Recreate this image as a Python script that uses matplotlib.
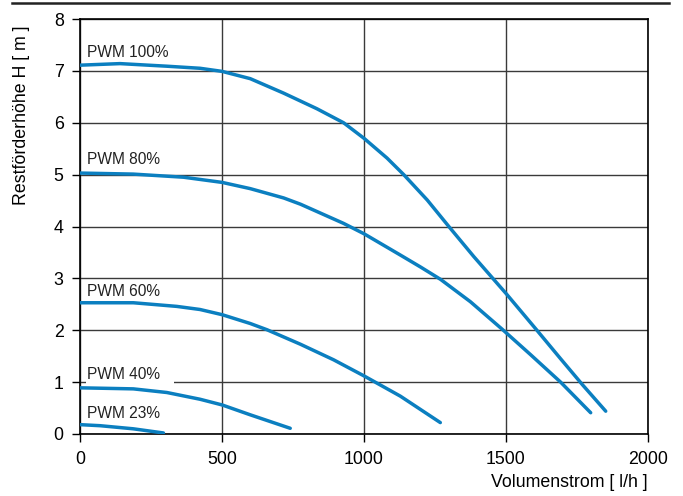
import numpy as np
import matplotlib
matplotlib.use("Agg")
from matplotlib import pyplot as plt
from matplotlib.patches import Rectangle

plt.rcParams['font.family'] = ['Liberation Sans', 'DejaVu Sans']

# curves: flow [l/h], head [m]
q100 = [0, 140, 305, 422, 500, 599, 717, 834, 928, 1000, 1081, 1140, 1223, 1299,
        1387, 1470, 1502, 1611, 1693, 1770, 1852]
h100 = [7.11, 7.14, 7.09, 7.05, 6.99, 6.85, 6.57, 6.27, 6.00, 5.70, 5.32, 5.00, 4.51, 4.00,
        3.42, 2.90, 2.70, 1.99, 1.45, 0.95, 0.44]

q80 = [0, 187, 364, 500, 599, 717, 776, 928, 1000, 1128, 1199, 1270, 1375,
       1487, 1587, 1693, 1799]
h80 = [5.03, 5.01, 4.95, 4.85, 4.73, 4.55, 4.43, 4.06, 3.86, 3.45, 3.22, 2.98, 2.55,
       2.02, 1.53, 1.00, 0.41]

q60 = [0, 187, 340, 422, 500, 599, 658, 776, 893, 1000, 1128, 1269]
h60 = [2.53, 2.53, 2.46, 2.40, 2.30, 2.13, 2.01, 1.73, 1.43, 1.12, 0.73, 0.22]

q40 = [0, 187, 305, 422, 500, 599, 740]
h40 = [0.89, 0.87, 0.80, 0.67, 0.56, 0.37, 0.11]

q23 = [0, 70, 187, 293]
h23 = [0.18, 0.16, 0.10, 0.02]

curves = [(q100, h100), (q80, h80), (q60, h60), (q40, h40), (q23, h23)]
labels = ['PWM 100%', 'PWM 80%', 'PWM 60%', 'PWM 40%', 'PWM 23%']
label_y = [7.27, 5.21, 2.66, 1.06, 0.31]

blue = '#0b7fc0'

fig = plt.figure(figsize=(6.83, 4.96), dpi=100)
ax = fig.add_axes([80.3/683, 62/496, 567.4/683, 415/496])

for q, h in curves:
    ax.plot(q, h, color=blue, lw=2.5, solid_capstyle='round', solid_joinstyle='round', zorder=3)

for txt, y in zip(labels, label_y):
    ax.text(25, y, txt, fontsize=11.2, color='#222222', va='baseline', ha='left', zorder=4)

# white patch that cuts the 1 m gridline behind "PWM 40%"
ax.add_patch(Rectangle((20, 0.96), 310, 0.08, facecolor='white', edgecolor='none', zorder=1.5))

ax.set_xlim(0, 2000)
ax.set_ylim(0, 8)
ax.set_xticks([0, 500, 1000, 1500, 2000])
ax.set_yticks(range(9))
ax.grid(True, color='#3a3a3a', lw=1.0)
ax.set_axisbelow(True)
for s in ax.spines.values():
    s.set_color('black')
    s.set_linewidth(1.2)
ax.tick_params(direction='out', length=6, width=1, labelsize=12.8, pad=6.5, colors='black')
ax.tick_params(axis='y', pad=6)

ax.set_ylabel('Restförderhöhe H [ m ]', fontsize=12.8)
ax.yaxis.set_label_coords(-0.1045, 0.769)
ax.yaxis.label.set_va('center')
ax.set_xlabel('Volumenstrom [ l/h ]', fontsize=12.8)
ax.xaxis.set_label_coords(1.0, -0.116)
ax.xaxis.label.set_ha('right')
ax.xaxis.label.set_va('center')

# rule across the top of the page
fig.add_artist(plt.Line2D([12/683, 669/683], [1 - 3/496, 1 - 3/496], color='#222222', lw=1.8))

fig.savefig('out.png', dpi=100)
